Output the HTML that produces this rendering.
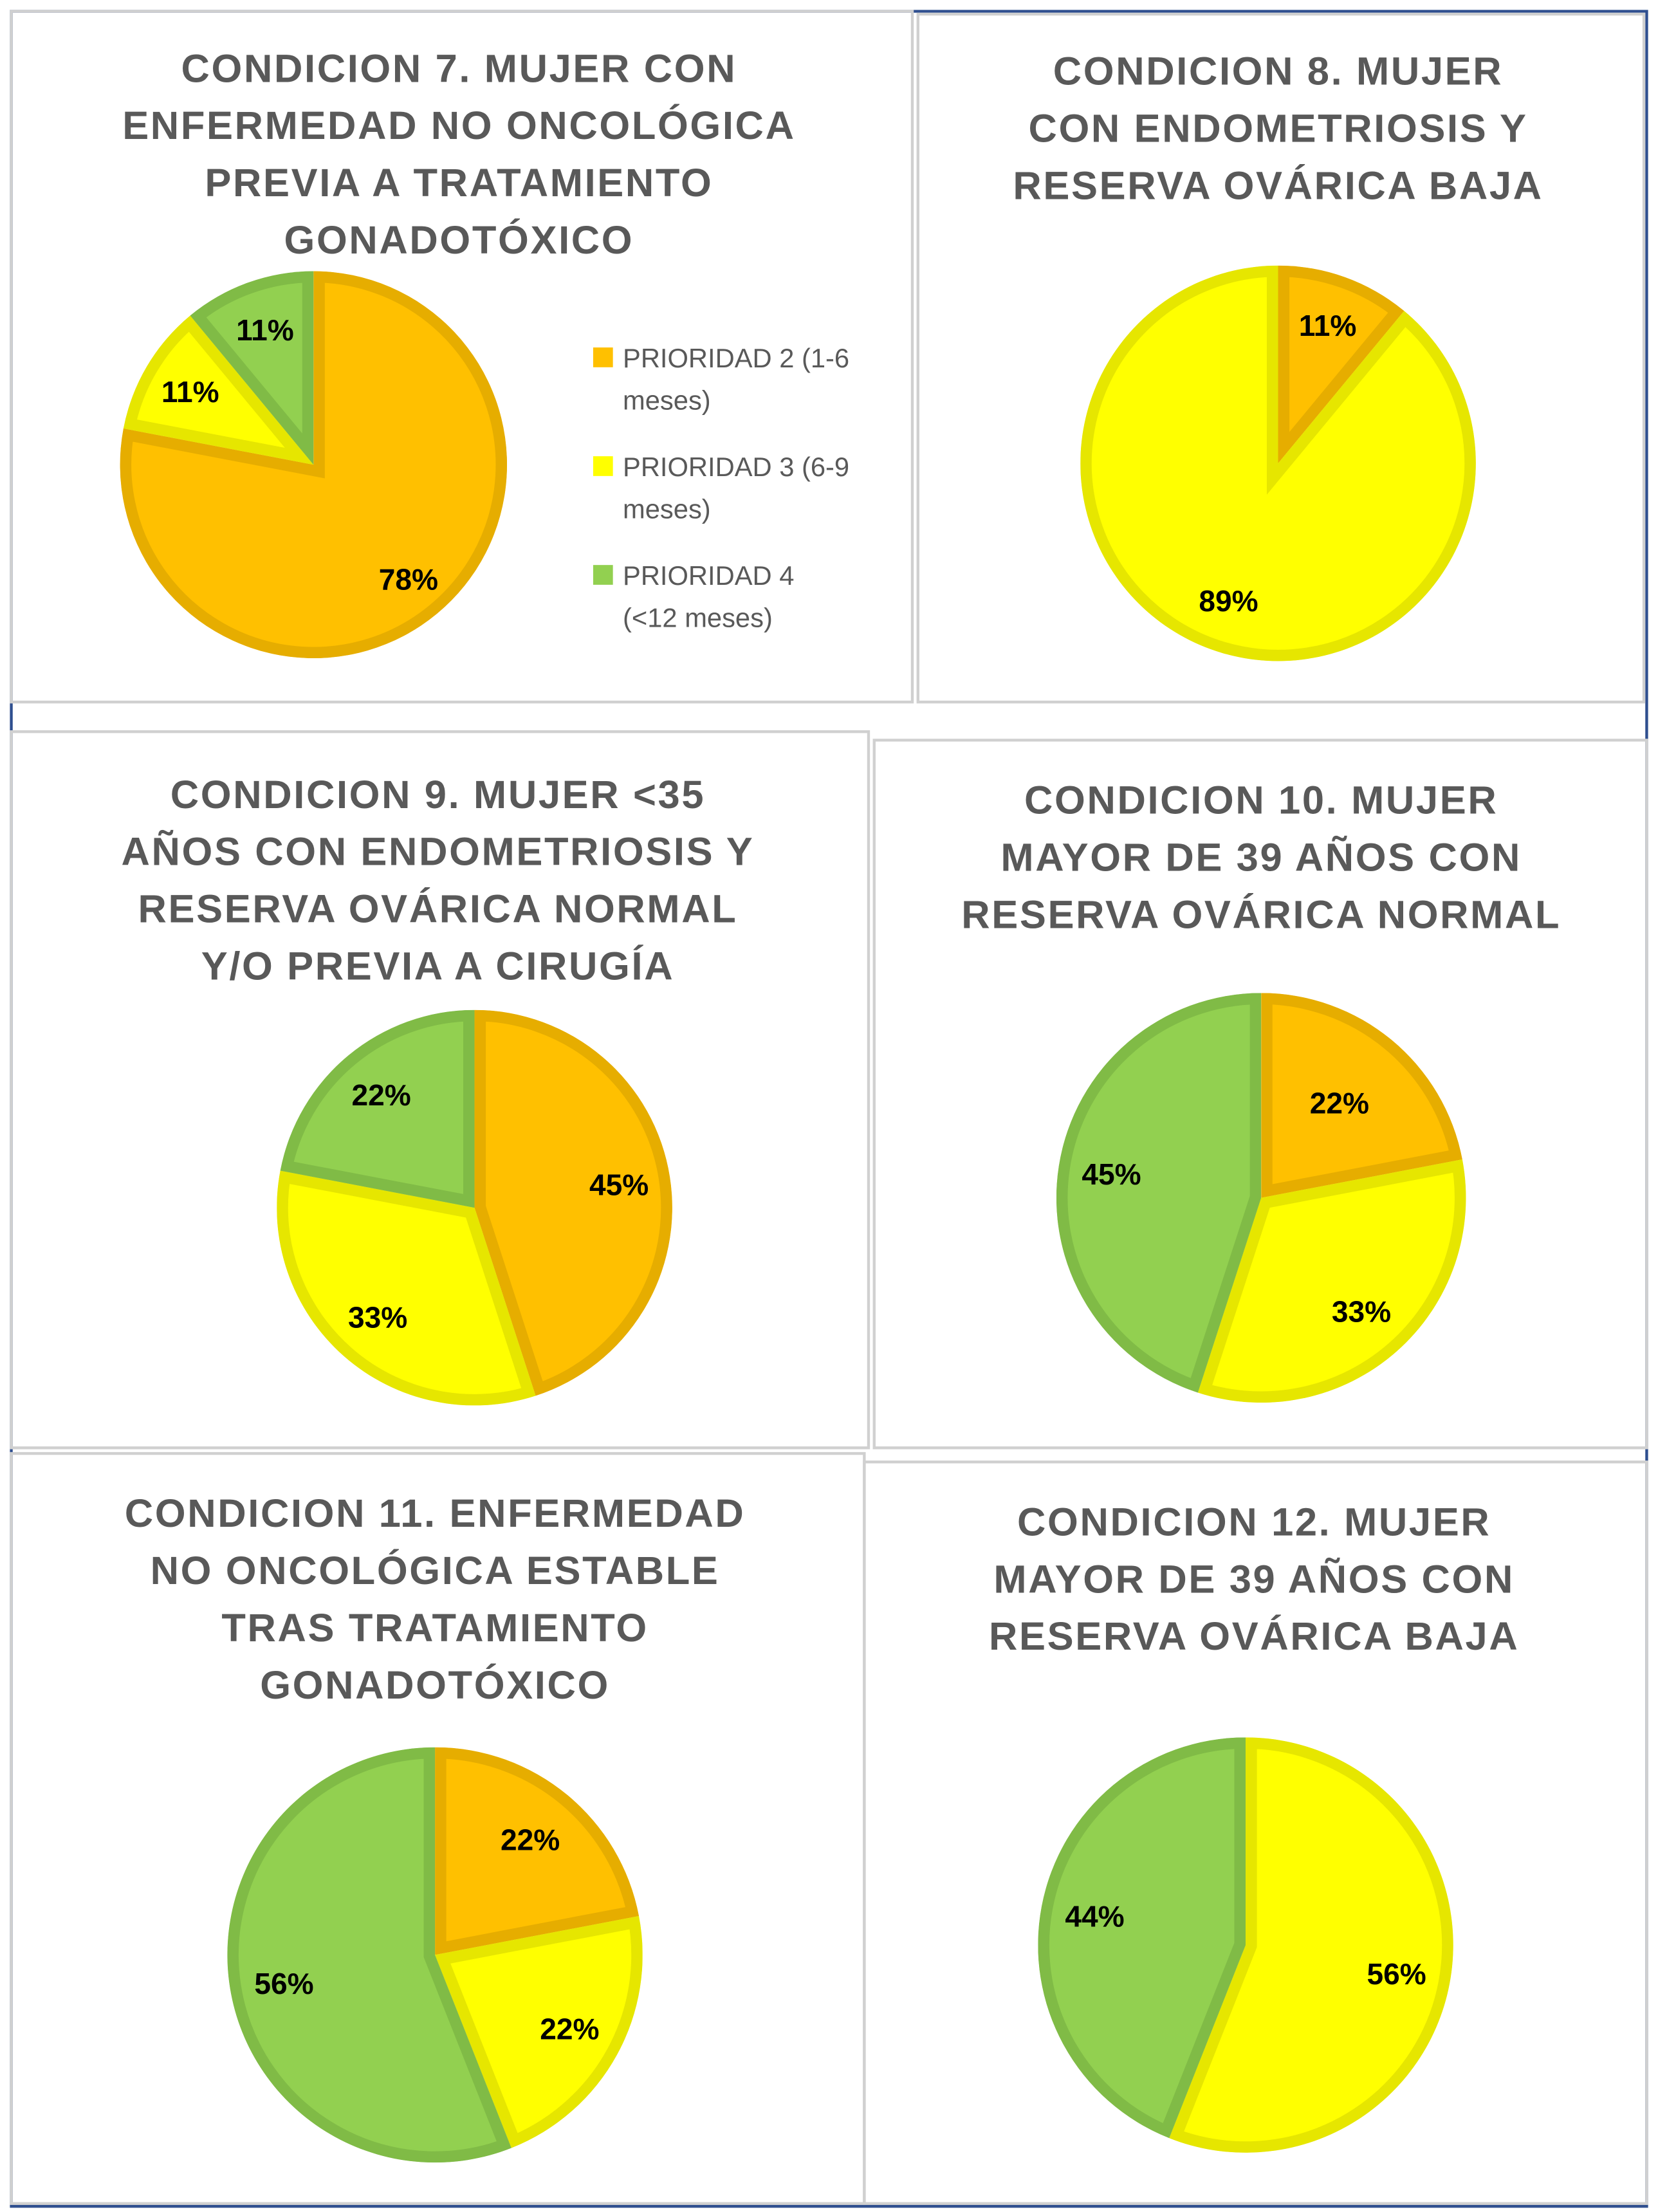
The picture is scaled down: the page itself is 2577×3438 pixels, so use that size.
<!DOCTYPE html>
<html><head><meta charset="utf-8"><style>
html,body{margin:0;padding:0;background:#fff}
svg{display:block}
.title{font-family:"Liberation Sans",sans-serif;font-weight:bold;fill:#595959;font-size:28px;letter-spacing:1.2px;text-anchor:middle}
.lbl{font-family:"Liberation Sans",sans-serif;font-weight:bold;fill:#000;font-size:21px;text-anchor:middle;dominant-baseline:central}
.leg{font-family:"Liberation Sans",sans-serif;fill:#595959;font-size:19px}
</style></head><body>
<svg id="s" width="2577" height="3438" viewBox="0 0 1174 1566" preserveAspectRatio="none" xmlns="http://www.w3.org/2000/svg">
<rect x="8" y="8" width="1158" height="1554" fill="none" stroke="#2F4F8F" stroke-width="2"/>
<g fill="none" stroke="#d0d0d0" stroke-width="2">
<rect x="8" y="8" width="638" height="489"/>
<rect x="650" y="10" width="514" height="487"/>
<rect x="8" y="518" width="607" height="507"/>
<rect x="619" y="524" width="547" height="501"/>
<rect x="8" y="1029" width="604" height="531"/>
<rect x="612" y="1035" width="554" height="525"/>
</g>
<g id="titles"></g>
<g id="pies"></g>
<g>
<rect x="420" y="246" width="14" height="14" fill="#FFC000"/>
<text class="leg" x="441" y="260">PRIORIDAD 2 (1-6</text>
<text class="leg" x="441" y="290">meses)</text>
<rect x="420" y="323" width="14" height="14" fill="#FFFF00"/>
<text class="leg" x="441" y="337">PRIORIDAD 3 (6-9</text>
<text class="leg" x="441" y="367">meses)</text>
<rect x="420" y="400" width="14" height="14" fill="#92D050"/>
<text class="leg" x="441" y="414">PRIORIDAD 4</text>
<text class="leg" x="441" y="444">(&lt;12 meses)</text>
</g>
</svg>
<script>
const categories = ["PRIORIDAD 2", "PRIORIDAD 3", "PRIORIDAD 4"];
const values7 = [78, 11, 11];
const values8 = [11, 89, 0];
const values9 = [45, 33, 22];
const values10 = [22, 33, 45];
const values11 = [22, 22, 56];
const values12 = [0, 56, 44];
const titles7 = ["CONDICION 7. MUJER CON","ENFERMEDAD NO ONCOLÓGICA","PREVIA A TRATAMIENTO","GONADOTÓXICO"];
const titles8 = ["CONDICION 8. MUJER","CON ENDOMETRIOSIS Y","RESERVA OVÁRICA BAJA"];
const titles9 = ["CONDICION 9. MUJER <35","AÑOS CON ENDOMETRIOSIS Y","RESERVA OVÁRICA NORMAL","Y/O PREVIA A CIRUGÍA"];
const titles10 = ["CONDICION 10. MUJER","MAYOR DE 39 AÑOS CON","RESERVA OVÁRICA NORMAL"];
const titles11 = ["CONDICION 11. ENFERMEDAD","NO ONCOLÓGICA ESTABLE","TRAS TRATAMIENTO","GONADOTÓXICO"];
const titles12 = ["CONDICION 12. MUJER","MAYOR DE 39 AÑOS CON","RESERVA OVÁRICA BAJA"];

const NS="http://www.w3.org/2000/svg";
const fills=["#FFC000","#FFFF00","#92D050"];
const strokes=["#E6AD00","#E6E600","#80BB46"];
const charts=[
 {id:7,v:values7,t:titles7,cx:222,cy:329,r:137,tx:325,ty:48,lr:[0.77,0.74,0.74]},
 {id:8,v:values8,t:titles8,cx:905,cy:328,r:140,tx:905,ty:50,lr:[0.74,0.74,0.74]},
 {id:9,v:values9,t:titles9,cx:336,cy:855,r:140,tx:310,ty:562,lr:[0.74,0.74,0.74]},
 {id:10,v:values10,t:titles10,cx:893,cy:848,r:145,tx:893,ty:566,lr:[0.6,0.74,0.74]},
 {id:11,v:values11,t:titles11,cx:308,cy:1384,r:147,tx:308,ty:1071,lr:[0.72,0.74,0.74]},
 {id:12,v:values12,t:titles12,cx:882,cy:1377,r:147,tx:888,ty:1077,lr:[0.74,0.74,0.74]}
];
const pies=document.getElementById('pies'), tg=document.getElementById('titles');
function pt(cx,cy,r,f){const a=f*2*Math.PI;return [cx+r*Math.sin(a),cy-r*Math.cos(a)];}
charts.forEach(c=>{
 c.t.forEach((line,i)=>{
  const t=document.createElementNS(NS,'text');
  t.setAttribute('class','title');t.setAttribute('x',c.tx);t.setAttribute('y',c.ty+i*40.5+10);
  t.textContent=line;
  
  
  tg.appendChild(t);
 });
 const g=document.createElementNS(NS,'g');
 
 
 pies.appendChild(g);
 const total=c.v.reduce((a,b)=>a+b,0);
 let acc=0;
 c.v.forEach((v,i)=>{
  if(v<=0)return;
  const f0=acc/total,f1=(acc+v)/total;acc+=v;
  let d;
  if(f1-f0>=0.9999){d=`M${c.cx} ${c.cy-c.r}A${c.r} ${c.r} 0 1 1 ${c.cx-0.01} ${c.cy-c.r}Z`;}
  else{const p0=pt(c.cx,c.cy,c.r,f0),p1=pt(c.cx,c.cy,c.r,f1);
   d=`M${c.cx} ${c.cy}L${p0[0]} ${p0[1]}A${c.r} ${c.r} 0 ${f1-f0>0.5?1:0} 1 ${p1[0]} ${p1[1]}Z`;}
  const cid='clip'+c.id+'_'+i;
  const cp=document.createElementNS(NS,'clipPath');cp.setAttribute('id',cid);
  const cpp=document.createElementNS(NS,'path');cpp.setAttribute('d',d);cp.appendChild(cpp);g.appendChild(cp);
  const p=document.createElementNS(NS,'path');
  p.setAttribute('d',d);p.setAttribute('fill',fills[i]);p.setAttribute('stroke',strokes[i]);
  p.setAttribute('stroke-width','16');p.setAttribute('stroke-linejoin','miter');p.setAttribute('clip-path','url(#'+cid+')');
  
  
  g.appendChild(p);
  const m=pt(c.cx,c.cy,c.r*c.lr[i],(f0+f1)/2);
  const t=document.createElementNS(NS,'text');
  t.setAttribute('class','lbl');t.setAttribute('x',m[0]);t.setAttribute('y',m[1]);
  t.textContent=v+'%';
  
  
  g.appendChild(t);
 });
});
</script>
</body></html>
